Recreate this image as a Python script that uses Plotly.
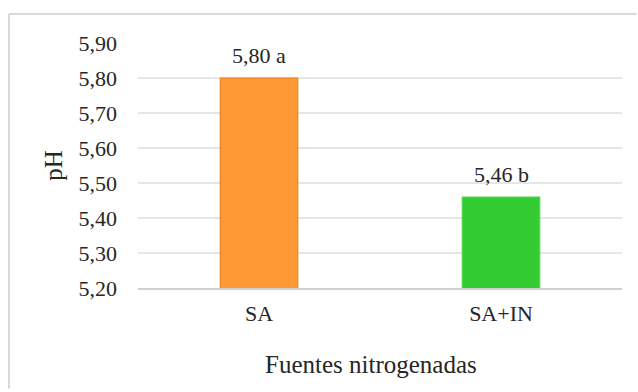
import plotly.graph_objects as go

# Nitrogen sources and mean soil pH
fuentes = ["SA", "SA+IN"]
ph = [5.80, 5.46]
letras = ["a", "b"]
colores = ["#FF9933", "#33CC33"]
bordes = ["#F07F23", "#4DD64D"]
y_ticks = [5.20, 5.30, 5.40, 5.50, 5.60, 5.70, 5.80, 5.90]

FONT = "Liberation Serif"
TXT = "#262626"

fig = go.Figure()
fig.add_trace(go.Bar(
    x=fuentes,
    y=ph,
    width=0.32,
    marker=dict(color=colores, line=dict(color=bordes, width=1.2)),
    hoverinfo="skip",
))

# value labels with significance letters above each bar
for f, v, l in zip(fuentes, ph, letras):
    fig.add_annotation(
        x=f, y=v, xref="x", yref="y",
        text=f"{v:.2f} {l}".replace(".", ","),
        showarrow=False, yanchor="bottom", yshift=8,
        font=dict(family=FONT, size=22, color=TXT),
    )

# x-axis title
fig.add_annotation(
    x=0.481, y=-0.375, xref="paper", yref="paper",
    text="Fuentes nitrogenadas", showarrow=False,
    xanchor="center", yanchor="bottom",
    font=dict(family=FONT, size=25, color=TXT),
)

# chart frame: left and top edges, kept inside the page
for x0, y0, x1, y1 in [(-0.2665, -0.41, -0.2665, 1.118), (-0.2665, 1.118, 1.03, 1.118)]:
    fig.add_shape(
        type="line", xref="paper", yref="paper",
        x0=x0, y0=y0, x1=x1, y1=y1,
        line=dict(color="#D9D9D9", width=2), layer="below",
    )

fig.update_layout(
    width=638, height=392,
    margin=dict(l=138, r=16, t=43, b=104),
    paper_bgcolor="white", plot_bgcolor="white",
    separators=",.",
    showlegend=False,
    font=dict(family=FONT, size=22, color=TXT),
    bargap=0.68,
)
fig.update_xaxes(
    showline=True, linecolor="#D0D0D0", linewidth=2,
    showgrid=False, ticks="", ticklabelstandoff=5,
    tickfont=dict(family=FONT, size=22, color=TXT),
    fixedrange=True,
)
fig.update_yaxes(
    range=[5.20, 5.90], tickvals=y_ticks, tickformat=".2f",
    showgrid=True, gridcolor="#E6E6E6", gridwidth=1.5,
    zeroline=False, showline=False, ticks="", ticklabelstandoff=20,
    tickfont=dict(family=FONT, size=22, color=TXT),
    title=dict(text="pH", font=dict(family=FONT, size=25, color=TXT), standoff=8),
    fixedrange=True,
)

fig.write_html("out.html", config={"displayModeBar": False})
